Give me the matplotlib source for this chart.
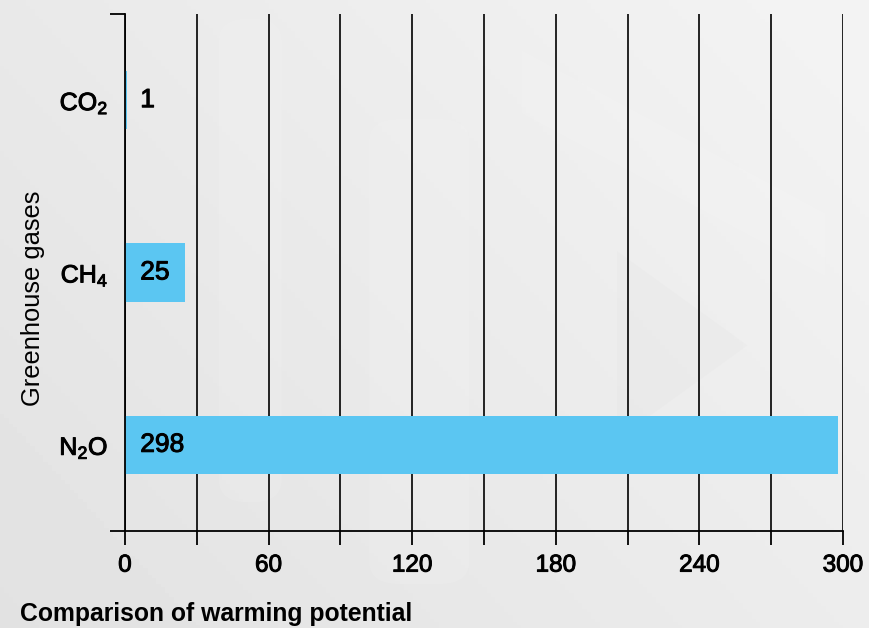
import numpy as np
import matplotlib.pyplot as plt
import matplotlib as mpl
import matplotlib.patheffects as pe
from matplotlib.patches import FancyBboxPatch, Polygon

gases = ['N$_2$O', 'CH$_4$', 'CO$_2$']
potential = [298, 25, 1]
x_ticks = list(range(0, 301, 30))
x_labels = [str(t) if t % 60 == 0 else '' for t in x_ticks]

mpl.rcParams['font.family'] = 'Liberation Sans'
mpl.rcParams['mathtext.fontset'] = 'custom'
mpl.rcParams['mathtext.rm'] = 'Liberation Sans'
mpl.rcParams['mathtext.default'] = 'regular'

# a little stroke makes the regular face look like a medium weight
medium = [pe.withStroke(linewidth=0.7, foreground='black')]

fig = plt.figure(figsize=(8.69, 6.28), dpi=100)

# background gradient + faint watermark shapes
bg = fig.add_axes([0, 0, 1, 1], zorder=-10)
gx, gy = np.meshgrid(np.linspace(0, 1, 200), np.linspace(0, 1, 200))
grad = 0.885 + 0.07 * (0.6 * gx + 0.4 * gy)
bg.imshow(grad, cmap='gray', vmin=0, vmax=1, extent=[0, 1, 0, 1],
          origin='lower', aspect='auto')
for x0, y0, w, h in [(0.252, 0.20, 0.072, 0.77), (0.425, 0.07, 0.115, 0.74)]:
    bg.add_patch(FancyBboxPatch((x0, y0), w, h, boxstyle='round,pad=0,rounding_size=0.035',
                                fc='white', ec='none', alpha=0.1))
bg.add_patch(Polygon([[0.6, 0.92], [0.95, 0.66], [0.95, 0.56], [0.6, 0.82]],
                     fc='white', ec='none', alpha=0.08))
bg.add_patch(Polygon([[0.71, 0.6], [0.86, 0.45], [0.71, 0.3]],
                     fc='#d8d8d8', ec='none', alpha=0.12))
bg.set_xlim(0, 1)
bg.set_ylim(0, 1)
bg.axis('off')

ax = fig.add_axes([0.1438, 0.1545, 0.8263, 0.8232])
ax.patch.set_alpha(0)
pos = np.arange(len(gases))
ax.barh(pos, potential, height=0.34, color='#5bc6f2', zorder=2)

for p, v in zip(pos, potential):
    ax.annotate(str(v), xy=(0, p), xytext=(11, 0), textcoords='offset points',
                ha='left', va='center', fontsize=19, color='black', zorder=3,
                path_effects=medium)

ax.set_xlim(0, 300)
ax.set_ylim(-0.5, 2.5)
ax.set_xticks(x_ticks)
ax.set_xticklabels(x_labels, fontsize=17.5)
ax.xaxis.grid(True, color='black', linewidth=1.2)
ax.set_axisbelow(True)
ax.tick_params(axis='x', length=10, width=1.3, pad=7, color='black')
for lab in ax.get_xticklabels():
    lab.set_path_effects(medium)

ax.set_yticks([-0.5, 2.5])
ax.set_yticklabels([])
ax.set_yticks(pos, minor=True)
ax.set_yticklabels(gases, minor=True, fontsize=18)
ax.tick_params(axis='y', which='major', length=11, width=1.3)
ax.tick_params(axis='y', which='minor', length=0, pad=12)
for lab in ax.get_yticklabels(minor=True):
    lab.set_path_effects(medium)

for s in ['top', 'right']:
    ax.spines[s].set_visible(False)
for s in ['left', 'bottom']:
    ax.spines[s].set_linewidth(1.3)

fig.text(20 / 869, 1 - 614 / 628, 'Comparison of warming potential', fontsize=17.8,
         fontweight='bold', ha='left', va='center')
fig.text(33 / 869, 1 - 298 / 628, 'Greenhouse gases', fontsize=18.4, rotation=90,
         ha='center', va='center')

plt.savefig('out.png', dpi=100)
